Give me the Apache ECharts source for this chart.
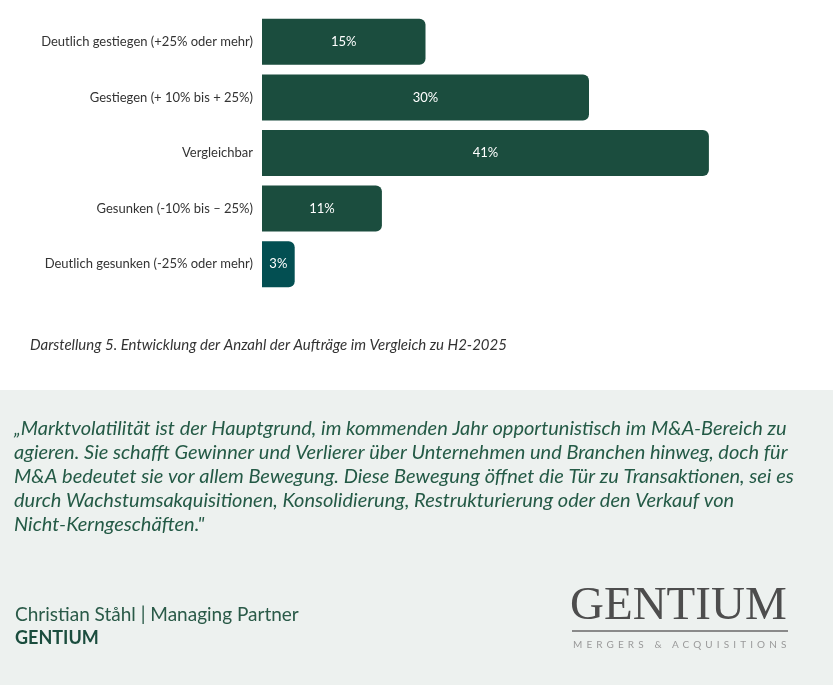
<!DOCTYPE html>
<html>
<head>
<meta charset="utf-8">
<script src="https://cdn.jsdelivr.net/npm/echarts@6/dist/echarts.min.js"></script>
<style>
html,body{margin:0;padding:0;background:#fff;}
#chart{position:absolute;left:0;top:0;width:833px;height:685px;}
#sub{position:absolute;left:573px;top:638px;font-family:Lato,"Noto Sans",sans-serif;font-size:10px;letter-spacing:4.1px;color:#9a9a9a;white-space:nowrap;}
</style>
</head>
<body>
<div id="chart"></div>
<div id="sub">MERGERS &amp; ACQUISITIONS</div>
<script>
const categories = [
  "Deutlich gestiegen (+25% oder mehr)",
  "Gestiegen (+ 10% bis + 25%)",
  "Vergleichbar",
  "Gesunken (-10% bis – 25%)",
  "Deutlich gesunken (-25% oder mehr)"
];
const values = [15, 30, 41, 11, 3];
const barColors = ["#1b4d3e", "#1b4d3e", "#1b4d3e", "#1b4d3e", "#034f52"];
const caption = "Darstellung 5. Entwicklung der Anzahl der Aufträge im Vergleich zu H2-2025";
const quoteLines = [
  "„Marktvolatilität ist der Hauptgrund, im kommenden Jahr opportunistisch im M&A-Bereich zu",
  "agieren. Sie schafft Gewinner und Verlierer über Unternehmen und Branchen hinweg, doch für",
  "M&A bedeutet sie vor allem Bewegung. Diese Bewegung öffnet die Tür zu Transaktionen, sei es",
  "durch Wachstumsakquisitionen, Konsolidierung, Restrukturierung oder den Verkauf von",
  "Nicht-Kerngeschäften.\""
];
const author = "Christian Ståhl | Managing Partner";
const company = "GENTIUM";
const logoText = "GENTIUM";

const chart = echarts.init(document.getElementById('chart'), null, {renderer: 'canvas'});
const quoteGraphics = quoteLines.map((t, i) => ({
  type: 'text', left: 14, top: 419 + i * 24, silent: true,
  style: {text: t, fill: '#245a46', font: 'italic 20px Lato, "Noto Sans", sans-serif'}
}));
chart.setOption({
  animation: false,
  grid: {left: 262, top: 14, width: 545, height: 278, containLabel: false},
  xAxis: {type: 'value', min: 0, max: 50, show: false},
  yAxis: {
    type: 'category', data: categories, inverse: true,
    axisLine: {show: false}, axisTick: {show: false},
    axisLabel: {margin: 9, color: '#333333', fontSize: 13, fontFamily: 'Lato, "Noto Sans", sans-serif'}
  },
  series: [{
    type: 'bar', barWidth: 46,
    data: values.map((v, i) => ({value: v, itemStyle: {color: barColors[i]}})),
    itemStyle: {borderRadius: [0, 6, 6, 0]},
    label: {show: true, position: 'inside', formatter: '{c}%', color: '#ffffff', fontSize: 13, fontFamily: 'Lato, "Noto Sans", sans-serif'}
  }],
  graphic: [
    {type: 'rect', silent: true, z: -10, shape: {x: 0, y: 390, width: 833, height: 295}, style: {fill: '#edf1ef'}},
    {type: 'text', left: 30, top: 338, silent: true,
      style: {text: caption, fill: '#333333', font: 'italic 15px Lato, "Noto Sans", sans-serif'}},
    ...quoteGraphics,
    {type: 'text', left: 15, top: 605, silent: true,
      style: {text: author, fill: '#2a5a48', font: '19px Lato, "Noto Sans", sans-serif'}},
    {type: 'text', left: 15, top: 629, silent: true,
      style: {text: company, fill: '#1b4d3e', font: 'bold 18px Lato, "Noto Sans", sans-serif'}},
    {type: 'text', left: 570, top: 583, silent: true,
      style: {text: logoText, fill: '#4d4d4d', font: '47px "Liberation Serif", "DejaVu Serif", serif'}},
    {type: 'rect', silent: true, shape: {x: 572, y: 630, width: 216, height: 2}, style: {fill: '#8a8a8a'}}
  ]
});
</script>
</body>
</html>
